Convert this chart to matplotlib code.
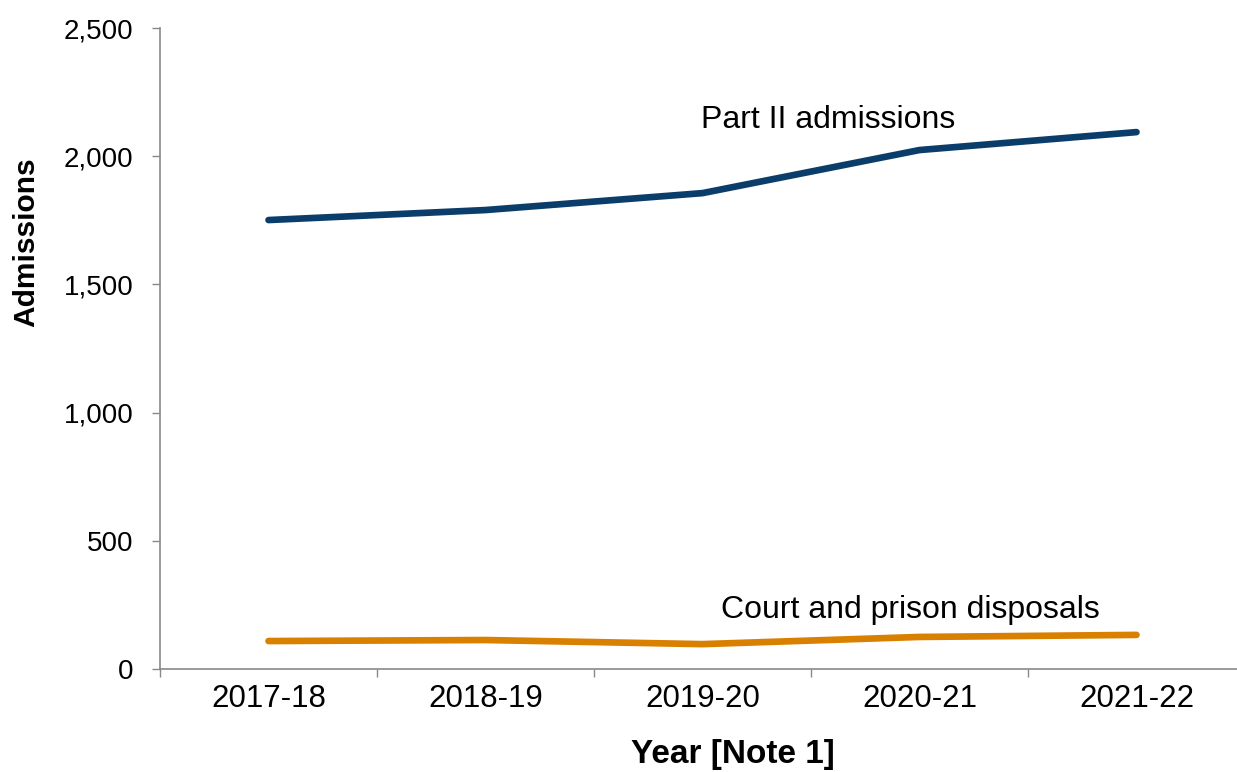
import matplotlib
matplotlib.use("Agg")
import matplotlib.pyplot as plt

plt.rcParams['font.family'] = ['Liberation Sans', 'DejaVu Sans']

# admissions per year
years = ['2017-18', '2018-19', '2019-20', '2020-21', '2021-22']
part2 = [1751, 1790, 1856, 2024, 2094]
court = [109, 113, 97, 125, 133]

navy = '#0b3d6b'
orange = '#d98000'
grey = '#898989'

fig = plt.figure(figsize=(12.37, 7.72), dpi=100)
ax = fig.add_axes([160 / 1237, 1 - 669 / 772, 1085 / 1237, 641 / 772])

x = range(len(years))
ax.plot(x, part2, color=navy, lw=4.8, solid_capstyle='round', solid_joinstyle='round')
ax.plot(x, court, color=orange, lw=4.8, solid_capstyle='round', solid_joinstyle='round')

ax.set_xlim(-0.5, len(years) - 0.5)
ax.set_ylim(0, 2500)
ax.set_yticks(range(0, 2501, 500))
ax.set_yticklabels([f'{v:,}' for v in range(0, 2501, 500)])

# category boundaries get the tick marks, names sit in between
ax.set_xticks([i - 0.5 for i in range(len(years) + 1)])
ax.set_xticklabels([])
ax.set_xticks(list(x), minor=True)
ax.set_xticklabels(years, minor=True)
ax.tick_params(axis='x', which='minor', length=0, pad=11, labelsize=22.5)
ax.tick_params(axis='x', which='major', length=6, width=1, color=grey)
ax.tick_params(axis='y', length=6, width=1, color=grey, pad=13, labelsize=20)

for side in ['top', 'right']:
    ax.spines[side].set_visible(False)
for side in ['left', 'bottom']:
    ax.spines[side].set_color(grey)
    ax.spines[side].set_linewidth(1.2)

ax.text(2.58, 2141, 'Part II admissions', fontsize=23, ha='center', va='center')
ax.text(2.96, 230, 'Court and prison disposals', fontsize=23, ha='center', va='center')

fig.text(733 / 1237, 1 - 755 / 772, 'Year [Note 1]', fontsize=24, fontweight='bold',
         ha='center', va='center')
fig.text(26 / 1237, 1 - 242 / 772, 'Admissions', fontsize=21.5, fontweight='bold',
         rotation=90, ha='center', va='center')

fig.savefig('out.png', dpi=100)
